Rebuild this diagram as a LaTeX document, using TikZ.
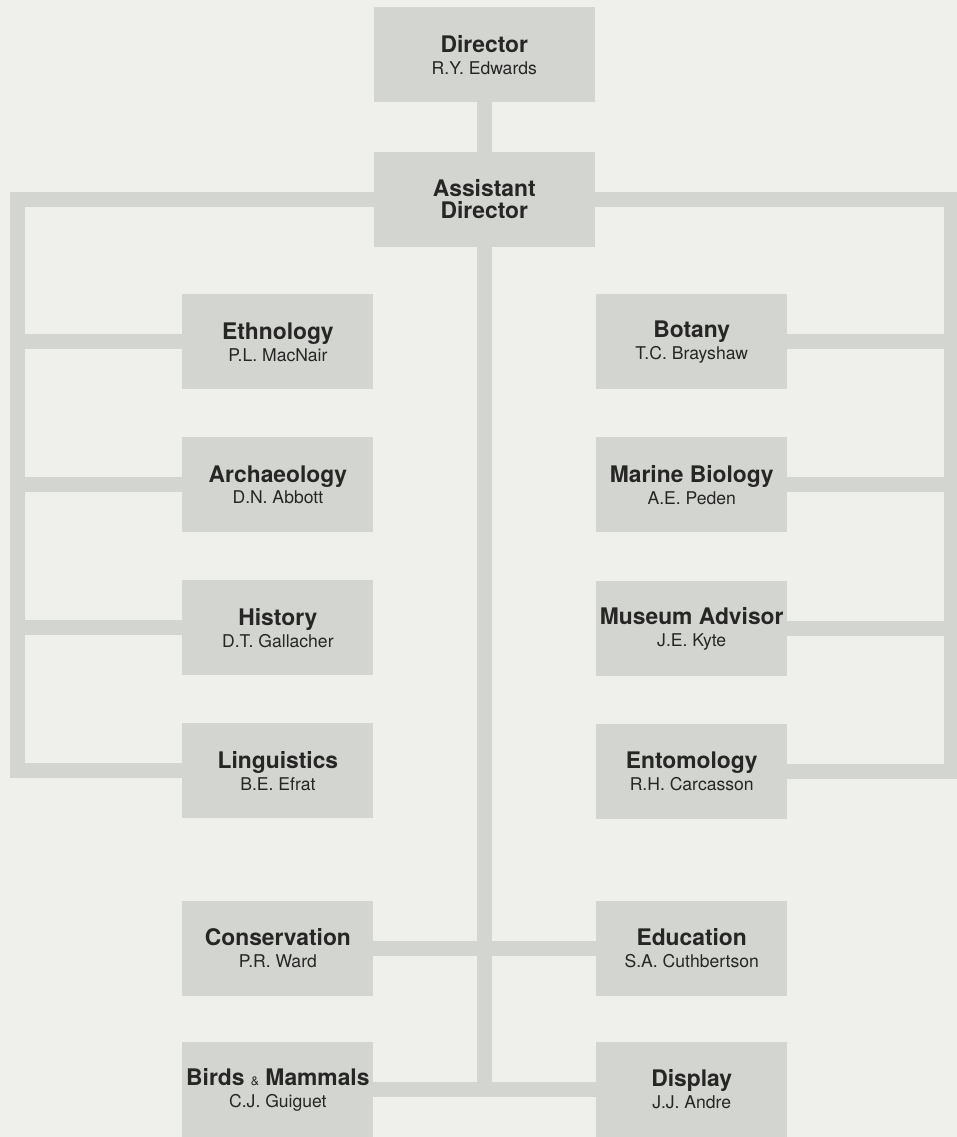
\documentclass[tikz,border=0pt]{standalone}
\usepackage{fontspec}
\setmainfont{TeX Gyre Heros}
\usetikzlibrary{backgrounds}
\definecolor{paper}{RGB}{239,239,235}
\definecolor{panel}{RGB}{211,213,209}
\definecolor{ink}{RGB}{38,38,36}
\newcommand{\who}{\fontsize{10}{12}\selectfont\mdseries}
\begin{document}
\begin{tikzpicture}[x=0.02cm, y=-0.02cm,
  every node/.style={font=\fontsize{13}{12.5}\selectfont\bfseries, text=ink},
  dept/.style={fill=panel, minimum width=3.82cm, minimum height=1.9cm, align=center, inner sep=0pt},
  head/.style={dept, minimum width=4.42cm},
  link/.style={draw=panel, line width=0.3cm, line join=miter}]
\node[head] (dir) at (484.5,55) {Director\\\who R.Y. Edwards};
\node[head] (asst) at (484.5,199.5) {Assistant\\Director};
% left column
\node[dept] (eth) at (278,342) {Ethnology\\\who P.L. MacNair};
\node[dept] (arch) at (278,485) {Archaeology\\\who D.N. Abbott};
\node[dept] (hist) at (278,628) {History\\\who D.T. Gallacher};
\node[dept] (ling) at (278,771) {Linguistics\\\who B.E. Efrat};
% right column
\node[dept] (bot) at (692,342) {Botany\\\who T.C. Brayshaw};
\node[dept] (mar) at (692,485) {Marine Biology\\\who A.E. Peden};
\node[dept] (mus) at (692,629) {Museum Advisor\\\who J.E. Kyte};
\node[dept] (ent) at (692,772) {Entomology\\\who R.H. Carcasson};
% bottom pairs
\node[dept] (cons) at (278,949) {Conservation\\\who P.R. Ward};
\node[dept] (edu) at (692,949) {Education\\\who S.A. Cuthbertson};
\node[dept] (birds) at (278,1090) {Birds {\mdseries\fontsize{7}{8}\selectfont\&} Mammals\\\who C.J. Guiguet};
\node[dept] (disp) at (692,1090) {Display\\\who J.J. Andre};
\coordinate (L) at (17.5,0);
\coordinate (R) at (952,0);
% connectors, behind the boxes
\begin{scope}[on background layer]
\path[use as bounding box, fill=paper] (0,0) rectangle (957,1137);
\draw[link] (dir.center) -- (asst.center);
\draw[link] (asst.center) -- (asst.center -| L) -- (ling.center -| L) -- (ling.center);
\draw[link] (asst.center) -- (asst.center -| R) -- (ent.center -| R) -- (ent.center);
\foreach \n in {eth,arch,hist} \draw[link] (\n.center) -- (\n.center -| L);
\foreach \n in {bot,mar,mus} \draw[link] (\n.center) -- (\n.center -| R);
\draw[link] (asst.center) -- (birds.center -| asst.center);
\draw[link] (cons.center) -- (edu.center);
\draw[link] (birds.center) -- (disp.center);
\end{scope}
\end{tikzpicture}
\end{document}
